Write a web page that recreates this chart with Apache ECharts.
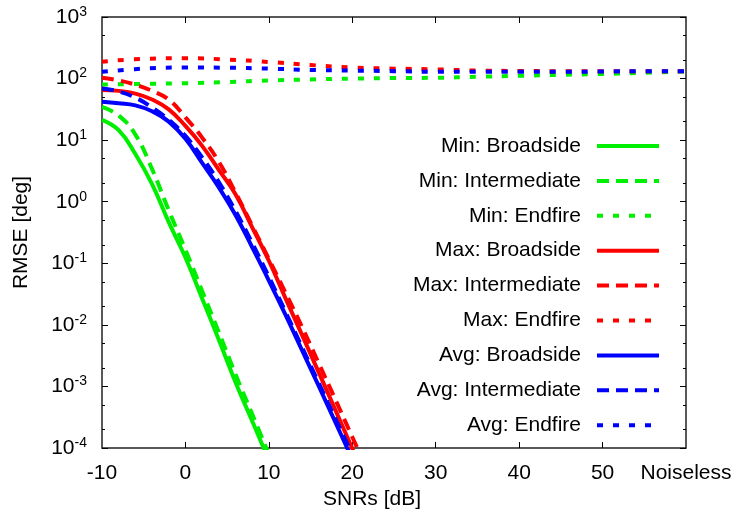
<!DOCTYPE html>
<html>
<head>
<meta charset="utf-8">
<script src="https://cdn.jsdelivr.net/npm/echarts@6/dist/echarts.min.js"></script>
<style>
  html, body { margin: 0; padding: 0; background: #fff; }
  #chart { width: 737px; height: 520px; }
</style>
</head>
<body>
<div id="chart"></div>
<script>
// SNR grid (dB) for the threshold curves and for the flat endfire curves;
// 60 on the axis stands for the noiseless case.
const snrSteep = [-10, -8, -6, -4, -2, 0, 2, 4, 6, 8, 10, 12, 14, 16, 18, 20, 22];
const snrFlat = [-10, -5, 0, 5, 10, 15, 20, 25, 30, 35, 40, 45, 50, 55, 60];

// RMSE [deg]
const minBroadside    = [21.4, 14.5, 5.96, 1.93, 0.465, 0.124, 0.0269, 0.00575, 0.00117, 2.75e-4, 6.3e-5];
const minIntermediate = [34.7, 25.1, 12.3, 3.39, 0.724, 0.166, 0.0355, 0.00759, 0.00158, 3.55e-4, 7.9e-5];
const minEndfire      = [80, 82, 84, 88, 93, 97, 100, 102, 103, 107, 111, 115, 119, 124, 131];
const maxBroadside    = [65.2, 63.1, 56.9, 45.7, 31.6, 17.0, 8.07, 3.30, 1.32, 0.384, 0.110, 0.0269, 0.00676, 0.00166, 4.07e-4, 9.8e-5, 2.4e-5];
const maxIntermediate = [103, 93.3, 79.4, 63.1, 45.7, 23.4, 11.0, 4.45, 1.41, 0.407, 0.117, 0.0331, 0.00912, 0.00234, 6.0e-4, 1.51e-4, 3.8e-5];
const maxEndfire      = [188, 209, 214, 204, 186, 166, 151, 145, 141, 135, 133, 132, 132, 132, 132];
const avgBroadside    = [42.1, 39.8, 36.7, 29.5, 20.0, 10.5, 4.27, 1.71, 0.61, 0.182, 0.0525, 0.0145, 0.0038, 0.001, 2.57e-4, 6.6e-5];
const avgIntermediate = [69.2, 61.7, 49.0, 33.9, 21.4, 11.7, 5.25, 2.08, 0.708, 0.214, 0.0603, 0.0162, 0.00427, 0.00112, 2.95e-4, 7.8e-5];
const avgEndfire      = [129, 145, 151, 150, 145, 138, 135, 132, 129, 129, 129, 129, 130, 132, 132];

const xTicks = [0, 10, 20, 30, 40, 50];
const noiselessLabel = 'Noiseless';
const yMinorTicks = [2e-4, 5e-4, 2e-3, 5e-3, 2e-2, 5e-2, 0.2, 0.5, 2, 5, 20, 50, 200, 500];

const FONT = '"Liberation Sans", Arial, Helvetica, sans-serif';
const GREEN = '#00ee00', RED = '#ff0000', BLUE = '#0000ff';
const DASH = [12, 7], DOT = [6, 10];

const curves = [
  { name: 'Min: Broadside',    x: snrSteep, y: minBroadside,    color: GREEN, type: 'solid' },
  { name: 'Min: Intermediate', x: snrSteep, y: minIntermediate, color: GREEN, type: DASH },
  { name: 'Min: Endfire',      x: snrFlat,  y: minEndfire,      color: GREEN, type: DOT },
  { name: 'Max: Broadside',    x: snrSteep, y: maxBroadside,    color: RED,   type: 'solid' },
  { name: 'Max: Intermediate', x: snrSteep, y: maxIntermediate, color: RED,   type: DASH },
  { name: 'Max: Endfire',      x: snrFlat,  y: maxEndfire,      color: RED,   type: DOT },
  { name: 'Avg: Broadside',    x: snrSteep, y: avgBroadside,    color: BLUE,  type: 'solid' },
  { name: 'Avg: Intermediate', x: snrSteep, y: avgIntermediate, color: BLUE,  type: DASH },
  { name: 'Avg: Endfire',      x: snrFlat,  y: avgEndfire,      color: BLUE,  type: DOT }
];

const series = curves.map(c => ({
  name: c.name,
  type: 'line',
  xAxisIndex: 0,
  yAxisIndex: 0,
  data: c.y.map((v, i) => [c.x[i], v]),
  symbol: 'none',
  smooth: 0.45,
  clip: true,
  color: c.color,
  lineStyle: { color: c.color, width: 4, type: c.type, cap: 'butt' },
  emphasis: { disabled: true },
  animation: false
}));

const yRange = { type: 'log', logBase: 10, min: 1e-4, max: 1e3 };
const tickStyle = { color: '#000', width: 1 };
const hiddenLine = { show: false, onZero: false };

function sideAxis(position, length, customValues) {
  const tick = { show: true, inside: true, length: length, lineStyle: tickStyle };
  if (customValues) tick.customValues = customValues;
  return Object.assign({
    position: position,
    axisLine: hiddenLine,
    axisTick: tick,
    axisLabel: { show: false },
    splitLine: { show: false }
  }, yRange);
}

const option = {
  animation: false,
  grid: { left: 102, right: 51, top: 17, bottom: 72, show: true, borderColor: '#222', borderWidth: 1.5, backgroundColor: 'transparent' },
  legend: {
    orient: 'vertical',
    align: 'right',
    right: 71,
    top: 129,
    itemWidth: 62,
    itemHeight: 14,
    itemGap: 10.9,
    selectedMode: false,
    lineStyle: { width: 4 },
    itemStyle: { opacity: 0, color: 'transparent', borderWidth: 0 },
    textStyle: { fontFamily: FONT, fontSize: 21, color: '#000', lineHeight: 24, padding: [0, 11, 0, 0] },
    data: curves.map(c => c.name)
  },
  xAxis: [
    {
      type: 'value', min: -10, max: 60, interval: 10, position: 'bottom',
      name: 'SNRs [dB]', nameLocation: 'middle', nameGap: 37,
      nameTextStyle: { fontFamily: FONT, fontSize: 21, color: '#000', padding: [0, 44, 0, 0] },
      axisLine: hiddenLine,
      axisTick: { show: true, inside: true, length: 6, customValues: xTicks, lineStyle: tickStyle },
      axisLabel: {
        fontFamily: FONT, fontSize: 21, color: '#000', margin: 15,
        formatter: v => (v === 60 ? noiselessLabel : String(v))
      },
      splitLine: { show: false }
    },
    {
      type: 'value', min: -10, max: 60, interval: 10, position: 'top',
      axisLine: hiddenLine,
      axisTick: { show: true, inside: true, length: 6, customValues: xTicks, lineStyle: tickStyle },
      axisLabel: { show: false },
      splitLine: { show: false }
    }
  ],
  yAxis: [
    Object.assign(sideAxis('left', 6), {
      name: 'RMSE [deg]', nameLocation: 'middle', nameGap: 70, nameRotate: 90,
      nameTextStyle: { fontFamily: FONT, fontSize: 21, color: '#000' },
      axisLabel: {
        margin: 15,
        formatter: v => '{b|10}{e|' + Math.round(Math.log10(v)) + '}',
        rich: {
          b: { fontFamily: FONT, fontSize: 21, color: '#000', lineHeight: 24 },
          e: { fontFamily: FONT, fontSize: 14, color: '#000', lineHeight: 14, verticalAlign: 'top' }
        }
      }
    }),
    sideAxis('left', 3, yMinorTicks),
    sideAxis('right', 6),
    sideAxis('right', 3, yMinorTicks)
  ],
  series: series
};

const chart = echarts.init(document.getElementById('chart'), null, { renderer: 'canvas' });
chart.setOption(option);
</script>
</body>
</html>
